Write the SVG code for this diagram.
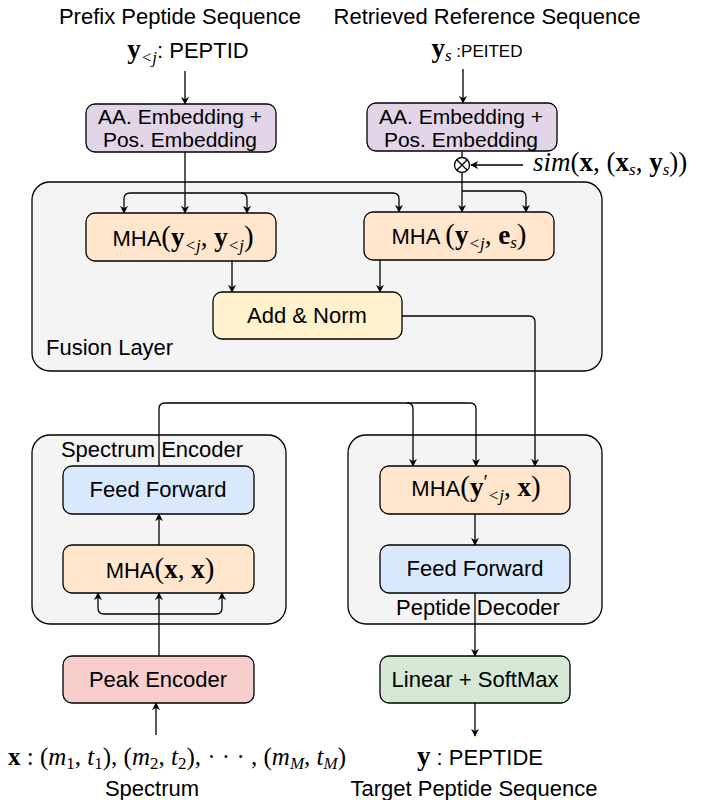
<svg xmlns="http://www.w3.org/2000/svg" width="712" height="800" viewBox="0 0 712 800">
  <style>
    .sans { font-family: "Liberation Sans", Arial, Helvetica, sans-serif; fill: #000; }
    .box { stroke: #000; stroke-width: 1.3; }
    .grp { fill: #f4f4f4; stroke: #000; stroke-width: 1.3; }
    .mb { font-family: "Liberation Serif", "Times New Roman", serif; font-weight: bold; }
    .mi { font-family: "Liberation Serif", "Times New Roman", serif; font-style: italic; }
    .mr { font-family: "Liberation Serif", "Times New Roman", serif; }
    .wire { fill: none; stroke: #000; stroke-width: 1.3; }
    .arr { marker-end: url(#head); }
  </style>
  <defs>
    <marker id="head" viewBox="0 0 10 10" refX="9" refY="5" markerWidth="8" markerHeight="8" markerUnits="userSpaceOnUse" orient="auto">
      <path d="M0,0 L10,5 L0,10 L3,5 z" fill="#000"/>
    </marker>
  </defs>

  <rect width="712" height="800" fill="#fff"/>

  <!-- container frames -->
  <g id="fusion-layer">
    <rect class="grp" x="32" y="182" width="570" height="189" rx="18"/>
    <text class="sans" x="46" y="355" font-size="22">Fusion Layer</text>
  </g>
  <g id="spectrum-encoder">
    <rect class="grp" x="32" y="435" width="254" height="189" rx="18"/>
    <text class="sans" x="152" y="457" font-size="22" text-anchor="middle">Spectrum Encoder</text>
  </g>
  <g id="peptide-decoder">
    <rect class="grp" x="348" y="435" width="254" height="189" rx="18"/>
    <text class="sans" x="478" y="615" font-size="22" text-anchor="middle">Peptide Decoder</text>
  </g>

  <!-- connectors -->
  <g id="connectors">
    <path class="wire arr" d="M185,71 V104"/>
    <path class="wire arr" d="M463,69 V103"/>
    <path class="wire" d="M462,151 V157"/>
    <path class="wire arr" d="M523,165 H471"/>
    <path class="wire arr" d="M185,152 V213"/>
    <path class="wire arr" d="M185,193 H130 Q124,193 124,199 V213"/>
    <path class="wire arr" d="M185,193 H241 Q247,193 247,199 V213"/>
    <path class="wire arr" d="M241,193 H393 Q399,193 399,199 V212"/>
    <path class="wire arr" d="M462,173 V212"/>
    <path class="wire arr" d="M462,191 H520 Q526,191 526,197 V212"/>
    <path class="wire arr" d="M232,261 V292"/>
    <path class="wire arr" d="M380,259 V292"/>
    <path class="wire arr" d="M402,316 H529 Q535,316 535,322 V466"/>
    <path class="wire arr" d="M159,466 V409 Q159,403 165,403 H407 Q413,403 413,409 V466"/>
    <path class="wire arr" d="M407,403 H470 Q476,403 476,409 V466"/>
    <path class="wire arr" d="M159,545 V514"/>
    <path class="wire arr" d="M159,656 V593"/>
    <path class="wire arr" d="M159,614 H104 Q98,614 98,608 V593"/>
    <path class="wire arr" d="M159,614 H216 Q222,614 222,608 V593"/>
    <path class="wire arr" d="M156,735 V703"/>
    <path class="wire arr" d="M475,514 V545"/>
    <path class="wire arr" d="M475,593 V656"/>
    <path class="wire arr" d="M475,703 V736"/>
  </g>

  <!-- inputs -->
  <g id="prefix-input">
    <text class="sans" x="180" y="24" font-size="22" text-anchor="middle">Prefix Peptide Sequence</text>
    <text x="188" y="58" text-anchor="middle" font-size="27"><tspan class="mb">y</tspan><tspan class="mi" font-size="17" dy="5">&lt;j</tspan><tspan class="sans" font-size="22" dy="-5">: PEPTID</tspan></text>
  </g>
  <g id="reference-input">
    <text class="sans" x="487" y="24" font-size="22" text-anchor="middle">Retrieved Reference Sequence</text>
    <text x="477" y="57" text-anchor="middle" font-size="27"><tspan class="mb">y</tspan><tspan class="mi" font-size="17" dy="4">s</tspan><tspan class="sans" font-size="17" dy="-4"> :PEITED</tspan></text>
  </g>

  <!-- embeddings -->
  <g id="prefix-embedding">
    <rect class="box" x="86" y="104" width="190" height="48" rx="9" fill="#e1d5e7"/>
    <text class="sans" x="180" y="124" font-size="21" text-anchor="middle">AA. Embedding +</text>
    <text class="sans" x="180" y="147" font-size="21" text-anchor="middle">Pos. Embedding</text>
  </g>
  <g id="reference-embedding">
    <rect class="box" x="367" y="103" width="190" height="48" rx="9" fill="#e1d5e7"/>
    <text class="sans" x="461" y="124" font-size="21" text-anchor="middle">AA. Embedding +</text>
    <text class="sans" x="461" y="147" font-size="21" text-anchor="middle">Pos. Embedding</text>
  </g>

  <!-- similarity weighting -->
  <g id="similarity-weight">
    <circle cx="462" cy="165" r="7.5" fill="#fff" stroke="#000" stroke-width="1.3"/>
    <path d="M456.7,159.7 L467.3,170.3 M467.3,159.7 L456.7,170.3" stroke="#000" stroke-width="1.3"/>
    <text x="533" y="171" font-size="27"><tspan class="mi">sim</tspan><tspan class="mr">(</tspan><tspan class="mb">x</tspan><tspan class="mr">, (</tspan><tspan class="mb">x</tspan><tspan class="mi" font-size="17" dy="4">s</tspan><tspan class="mr" dy="-4">, </tspan><tspan class="mb">y</tspan><tspan class="mi" font-size="17" dy="4">s</tspan><tspan class="mr" dy="-4">))</tspan></text>
  </g>

  <!-- fusion layer blocks -->
  <g id="self-attention">
    <rect class="box" x="86" y="213" width="190" height="48" rx="9" fill="#ffe6cc"/>
    <text x="183" y="246" text-anchor="middle" font-size="27"><tspan class="sans" font-size="22">MHA</tspan><tspan class="mr" font-size="29">(</tspan><tspan class="mb">y</tspan><tspan class="mi" font-size="17" dy="5">&lt;j</tspan><tspan class="mr" dy="-5">, </tspan><tspan class="mb">y</tspan><tspan class="mi" font-size="17" dy="5">&lt;j</tspan><tspan class="mr" font-size="29" dy="-5">)</tspan></text>
  </g>
  <g id="cross-attention-ref">
    <rect class="box" x="364" y="212" width="190" height="48" rx="9" fill="#ffe6cc"/>
    <text x="459" y="244" text-anchor="middle" font-size="27"><tspan class="sans" font-size="22">MHA </tspan><tspan class="mr" font-size="29">(</tspan><tspan class="mb">y</tspan><tspan class="mi" font-size="17" dy="5">&lt;j</tspan><tspan class="mr" dy="-5">, </tspan><tspan class="mb">e</tspan><tspan class="mi" font-size="17" dy="4">s</tspan><tspan class="mr" font-size="29" dy="-4">)</tspan></text>
  </g>
  <g id="add-norm">
    <rect class="box" x="213" y="292" width="189" height="47" rx="9" fill="#fff2cc"/>
    <text class="sans" x="307" y="323" font-size="22" text-anchor="middle">Add &amp; Norm</text>
  </g>

  <!-- spectrum encoder blocks -->
  <g id="encoder-feed-forward">
    <rect class="box" x="63" y="466" width="191" height="48" rx="9" fill="#dae8fc"/>
    <text class="sans" x="158" y="497" font-size="22" text-anchor="middle">Feed Forward</text>
  </g>
  <g id="encoder-attention">
    <rect class="box" x="63" y="545" width="191" height="48" rx="9" fill="#ffe6cc"/>
    <text x="160" y="578" text-anchor="middle" font-size="27"><tspan class="sans" font-size="22">MHA</tspan><tspan class="mr" font-size="29">(</tspan><tspan class="mb">x</tspan><tspan class="mr">, </tspan><tspan class="mb">x</tspan><tspan class="mr" font-size="29">)</tspan></text>
  </g>
  <g id="peak-encoder">
    <rect class="box" x="63" y="656" width="191" height="47" rx="9" fill="#f8cecc"/>
    <text class="sans" x="158" y="687" font-size="22" text-anchor="middle">Peak Encoder</text>
  </g>

  <!-- peptide decoder blocks -->
  <g id="decoder-attention">
    <rect class="box" x="380" y="466" width="190" height="48" rx="9" fill="#ffe6cc"/>
    <text x="476" y="496" text-anchor="middle" font-size="27"><tspan class="sans" font-size="22">MHA</tspan><tspan class="mr" font-size="29">(</tspan><tspan class="mb">y</tspan><tspan class="mr" font-size="20" dy="-7">′</tspan><tspan class="mi" font-size="17" dy="12">&lt;j</tspan><tspan class="mr" dy="-5">, </tspan><tspan class="mb">x</tspan><tspan class="mr" font-size="29">)</tspan></text>
  </g>
  <g id="decoder-feed-forward">
    <rect class="box" x="380" y="545" width="190" height="48" rx="9" fill="#dae8fc"/>
    <text class="sans" x="475" y="576" font-size="22" text-anchor="middle">Feed Forward</text>
  </g>
  <g id="output-head">
    <rect class="box" x="380" y="656" width="190" height="47" rx="9" fill="#d5e8d4"/>
    <text class="sans" x="475" y="687" font-size="22" text-anchor="middle">Linear + SoftMax</text>
  </g>

  <!-- spectrum input -->
  <g id="spectrum-input">
    <text x="177" y="765" text-anchor="middle" font-size="25"><tspan class="mb">x</tspan><tspan class="mr"> : (</tspan><tspan class="mi">m</tspan><tspan class="mr" font-size="17" dy="4">1</tspan><tspan class="mr" dy="-4">, </tspan><tspan class="mi">t</tspan><tspan class="mr" font-size="17" dy="4">1</tspan><tspan class="mr" dy="-4">), (</tspan><tspan class="mi">m</tspan><tspan class="mr" font-size="17" dy="4">2</tspan><tspan class="mr" dy="-4">, </tspan><tspan class="mi">t</tspan><tspan class="mr" font-size="17" dy="4">2</tspan><tspan class="mr" dy="-4">), · · · , (</tspan><tspan class="mi">m</tspan><tspan class="mi" font-size="17" dy="4">M</tspan><tspan class="mr" dy="-4">, </tspan><tspan class="mi">t</tspan><tspan class="mi" font-size="17" dy="4">M</tspan><tspan class="mr" dy="-4">)</tspan></text>
    <text class="sans" x="152" y="796" font-size="22" text-anchor="middle">Spectrum</text>
  </g>

  <!-- target output -->
  <g id="target-output">
    <text x="480" y="765" text-anchor="middle" font-size="27"><tspan class="mb">y</tspan><tspan class="sans" font-size="22"> : PEPTIDE</tspan></text>
    <text class="sans" x="474" y="796" font-size="22" text-anchor="middle">Target Peptide Sequence</text>
  </g>
</svg>
